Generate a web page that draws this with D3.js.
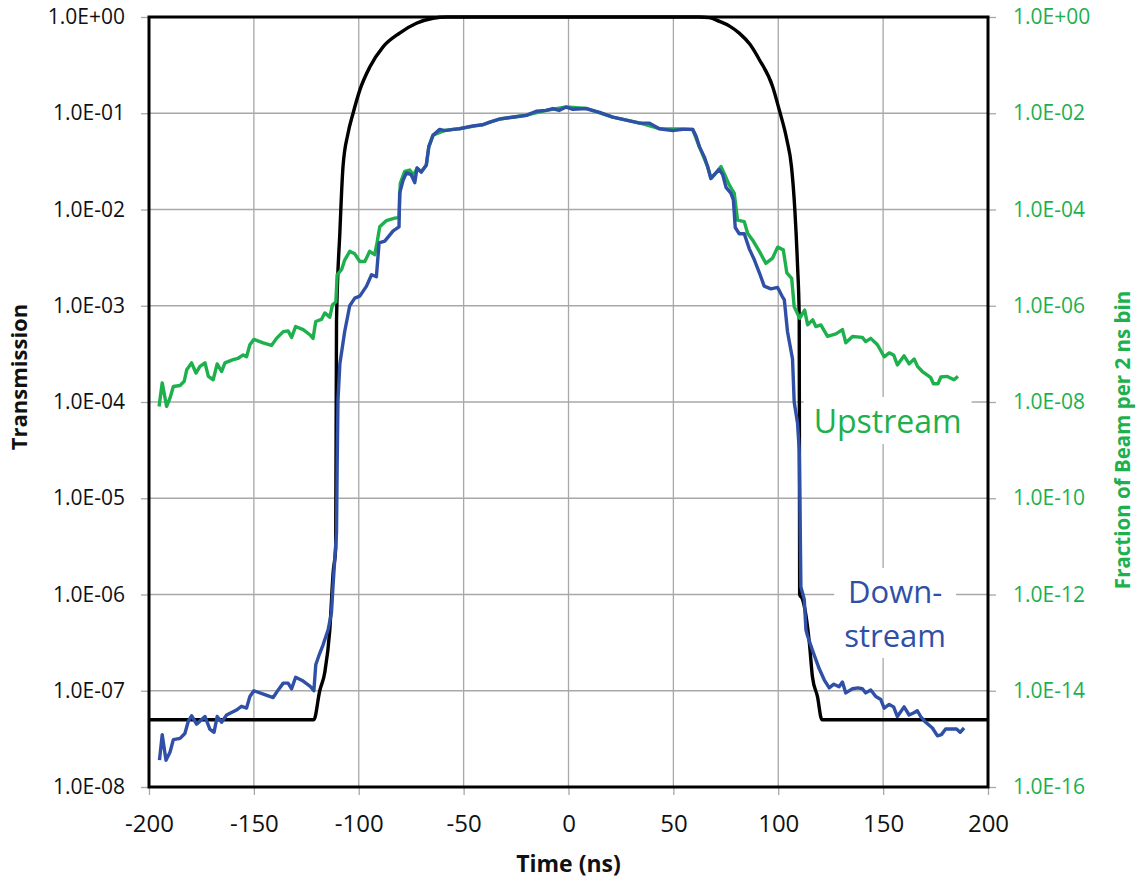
<!DOCTYPE html>
<html>
<head>
<meta charset="utf-8">
<script src="https://cdnjs.cloudflare.com/ajax/libs/d3/7.8.5/d3.min.js"></script>
<style>
  body { margin: 0; background: #fff; }
  text { font-family: "Open Sans", "DejaVu Sans", sans-serif; }
</style>
</head>
<body>
<div id="chart"></div>
<script>
var width  = 1144;
var height = 886;
var margin = { top: 17, right: 156, bottom: 99, left: 149 };

var blue  = "#2f50a6";
var green = "#1db04d";

// tick labels
var xTicks      = [-200, -150, -100, -50, 0, 50, 100, 150, 200];
var leftTicks   = [1, 1e-1, 1e-2, 1e-3, 1e-4, 1e-5, 1e-6, 1e-7, 1e-8];
var leftLabels  = ["1.0E+00", "1.0E-01", "1.0E-02", "1.0E-03", "1.0E-04", "1.0E-05", "1.0E-06", "1.0E-07", "1.0E-08"];
var rightTicks  = [1, 1e-2, 1e-4, 1e-6, 1e-8, 1e-10, 1e-12, 1e-14, 1e-16];
var rightLabels = ["1.0E+00", "1.0E-02", "1.0E-04", "1.0E-06", "1.0E-08", "1.0E-10", "1.0E-12", "1.0E-14", "1.0E-16"];

// transmission (black), [time ns, transmission]
var transmission = [
  [-200, 5e-8], [-121.4, 5e-8], [-118.6, 1.0e-7], [-116.2, 1.55e-7], [-113.8, 4.3e-7],
  [-112.2, 1.7e-6], [-111.0, 3e-6], [-110.6, 7e-4], [-109.0, 5.8e-3], [-107.5, 2.8e-2],
  [-105.1, 6.2e-2], [-102.7, 0.1], [-99.5, 0.174], [-94.8, 0.30], [-88.4, 0.49],
  [-80.5, 0.68], [-72.5, 0.86], [-64.6, 0.97], [-58, 1.0], [62, 1.0], [67, 0.985],
  [72, 0.9], [77, 0.8], [81.4, 0.68], [86.5, 0.52], [91, 0.36], [97.3, 0.19],
  [100.5, 0.108], [104.1, 0.053], [106.3, 0.028], [107.9, 0.01], [109.2, 2.6e-3],
  [110.0, 7.8e-4], [110.2, 1.0e-6], [111.6, 8.9e-7], [114.8, 3.2e-7], [116.3, 1.4e-7],
  [118.7, 8.7e-8], [120.8, 5e-8], [200, 5e-8]
];

// downstream (blue, left axis), [time ns, transmission]
var downstream = [
  [-195, 1.9e-8], [-193.7, 3.5e-8], [-191.9, 1.9e-8], [-190, 2.3e-8], [-188.4, 3.1e-8],
  [-185.2, 3.2e-8], [-182.9, 3.6e-8], [-181.3, 4.8e-8], [-179.7, 5.5e-8], [-177.3, 4.5e-8],
  [-173.3, 5.4e-8], [-171, 4.0e-8], [-169, 3.7e-8], [-167.5, 5.4e-8], [-165.4, 4.7e-8],
  [-163, 5.6e-8], [-158.3, 6.3e-8], [-155.9, 6.9e-8], [-153.5, 6.6e-8], [-151.9, 8.7e-8],
  [-150, 1.0e-7], [-144.8, 9.1e-8], [-140.8, 8.5e-8], [-138.4, 1.02e-7], [-136, 1.2e-7],
  [-133.7, 1.2e-7], [-132, 1.05e-7], [-130.1, 1.38e-7], [-126.5, 1.26e-7], [-123.3, 1.12e-7],
  [-121.4, 1.0e-7], [-120.5, 1.86e-7], [-118.6, 2.45e-7], [-117, 3.0e-7], [-114.6, 4.3e-7],
  [-113, 6.5e-7], [-112.2, 1.3e-6], [-110.6, 4.4e-6], [-110.3, 2.1e-5], [-109.9, 1.05e-4],
  [-109, 2.5e-4], [-106.7, 5.4e-4], [-104.3, 1.0e-3], [-101.9, 1.2e-3], [-99.5, 1.26e-3],
  [-96.3, 1.6e-3], [-93.9, 2.1e-3], [-91.6, 2.0e-3], [-90.3, 4.5e-3], [-87.6, 4.7e-3],
  [-83.6, 6.0e-3], [-80.8, 6.6e-3], [-80.5, 1.48e-2], [-78.9, 2.0e-2], [-77.3, 2.4e-2],
  [-75, 2.3e-2], [-73.3, 1.9e-2], [-72.2, 2.7e-2], [-70.2, 2.45e-2], [-67.8, 2.9e-2],
  [-66.6, 4.5e-2], [-64.6, 5.9e-2], [-61.4, 6.8e-2], [-59, 6.6e-2], [-55, 6.8e-2],
  [-51.9, 6.9e-2], [-45.6, 7.4e-2], [-40.8, 7.6e-2], [-37.6, 8.1e-2], [-32.9, 8.7e-2],
  [-26.6, 9.1e-2], [-20.1, 9.5e-2], [-15.4, 0.105], [-10.6, 0.107], [-7.5, 0.112],
  [-4.5, 0.107], [-1.1, 0.116], [2.1, 0.11], [8.4, 0.112], [14.8, 0.102], [21.1, 0.091],
  [27.5, 0.085], [33.8, 0.079], [38.6, 0.079], [43.3, 0.069], [49.7, 0.066], [54.4, 0.068],
  [59.2, 0.068], [60.8, 0.058], [62.4, 0.045], [64.8, 0.035], [66.3, 0.028], [67.9, 0.021],
  [70.3, 0.024], [71.9, 0.026], [73.5, 0.023], [75.1, 0.017], [77.4, 0.0148], [78.6, 0.0126],
  [79.5, 0.0065], [81.4, 0.0056], [83.8, 0.0056], [86.2, 0.0039], [88.6, 0.003], [91, 0.0022],
  [93.3, 0.0016], [96.5, 0.0015], [99.7, 0.00155], [101.8, 0.00126], [102.9, 0.00115],
  [104.4, 5.4e-4], [106.8, 2.8e-4], [107.6, 1.0e-4], [109.2, 6.0e-5], [110, 3.2e-5],
  [110.5, 4.4e-6], [110.8, 1.2e-6], [112.4, 8.9e-7], [113.2, 4.3e-7], [114, 3.7e-7],
  [116.4, 2.6e-7], [119.5, 1.7e-7], [121.9, 1.3e-7], [124.3, 1.07e-7], [126.5, 1.17e-7],
  [129, 1.1e-7], [130.6, 1.23e-7], [132.2, 9.5e-8], [135.4, 1.05e-7], [138, 1.07e-7],
  [140.1, 1.05e-7], [141.7, 9.5e-8], [144.1, 1.02e-7], [146.5, 8.7e-8], [148.9, 8.1e-8],
  [150.5, 6.6e-8], [152.9, 7.2e-8], [155, 6.8e-8], [156.8, 5.4e-8], [160, 6.8e-8],
  [162.4, 5.6e-8], [164.7, 5.9e-8], [166.3, 6.2e-8], [167.9, 5.4e-8], [170.3, 4.7e-8],
  [173.5, 4.1e-8], [175.9, 3.4e-8], [177.8, 3.5e-8], [179.8, 4.0e-8], [183, 4.0e-8],
  [185, 4.0e-8], [186.7, 3.7e-8], [188.6, 4.1e-8]
];

// upstream (green, right axis), [time ns, fraction of beam per 2 ns bin]
var upstream = [
  [-195.2, 8.1e-9], [-193.7, 2.5e-8], [-191.6, 8.1e-9], [-190, 1.2e-8], [-188.4, 2.1e-8],
  [-185.2, 2.2e-8], [-183.2, 2.7e-8], [-182, 4.7e-8], [-179.7, 6.5e-8], [-177.6, 4.0e-8],
  [-175.7, 5.5e-8], [-173.3, 6.5e-8], [-171.7, 3.4e-8], [-169.4, 2.9e-8], [-167.5, 6.2e-8],
  [-165.4, 4.3e-8], [-163.8, 6.5e-8], [-159.9, 7.6e-8], [-157.5, 8.1e-8], [-155.1, 9.5e-8],
  [-153.5, 8.7e-8], [-151.9, 1.55e-7], [-150, 2.0e-7], [-145.6, 1.7e-7], [-141.6, 1.5e-7],
  [-139.2, 2.1e-7], [-136, 2.9e-7], [-133.7, 3.0e-7], [-132, 2.2e-7], [-130.1, 3.7e-7],
  [-126.5, 3.2e-7], [-123.3, 2.5e-7], [-121.8, 2.1e-7], [-120.5, 4.7e-7], [-117.8, 5.2e-7],
  [-116.2, 7.1e-7], [-113.8, 5.8e-7], [-112.5, 1.05e-6], [-110.9, 1.2e-6], [-110.3, 4.4e-6],
  [-108.2, 5.6e-6], [-106.7, 8.9e-6], [-104.3, 1.35e-5], [-101.9, 1.2e-5], [-99.5, 8.3e-6],
  [-97.1, 8.3e-6], [-94.8, 1.35e-5], [-92.4, 1.15e-5], [-91.3, 2.0e-5], [-90, 4.4e-5],
  [-86.8, 5.9e-5], [-82.9, 6.6e-5], [-80.8, 6.8e-5], [-80.2, 3.5e-4], [-78.1, 6.2e-4],
  [-75.7, 6.6e-4], [-74, 5.2e-4], [-72.2, 7.2e-4], [-70.2, 6.0e-4], [-67.8, 8.3e-4],
  [-66.6, 2.0e-3], [-64.6, 3.5e-3], [-59, 4.4e-3], [-51.9, 4.8e-3], [-40.8, 5.8e-3],
  [-32.9, 7.6e-3], [-20.1, 9.1e-3], [-10.6, 1.15e-2], [-1.1, 1.35e-2], [8.4, 1.26e-2],
  [21.1, 8.3e-3], [33.8, 6.3e-3], [43.3, 4.8e-3], [54.4, 4.7e-3], [59.2, 4.6e-3],
  [62.4, 2.0e-3], [66.3, 7.9e-4], [67.9, 4.4e-4], [70.3, 5.8e-4], [72.7, 7.8e-4],
  [76.7, 3.2e-4], [79, 2.2e-4], [80.6, 6.0e-5], [83.8, 5.6e-5], [85.4, 3.2e-5],
  [87.8, 2.3e-5], [91, 1.35e-5], [94.1, 7.6e-6], [97.3, 9.8e-6], [99.7, 1.65e-5],
  [102.4, 1.45e-5], [104.1, 4.8e-6], [106.4, 3.7e-6], [107.6, 9.5e-7], [108.4, 8.1e-7],
  [110.2, 5.5e-7], [112.6, 8.1e-7], [114, 4.0e-7], [116.4, 5.1e-7], [117.9, 3.7e-7],
  [120.3, 4.0e-7], [123.5, 2.3e-7], [127.5, 2.6e-7], [130.6, 3.2e-7], [132.2, 1.7e-7],
  [135.4, 2.3e-7], [140.1, 2.2e-7], [141.7, 1.8e-7], [144.1, 2.1e-7], [147.3, 1.55e-7],
  [150.5, 8.7e-8], [152.9, 1.05e-7], [155, 9.5e-8], [156.8, 5.9e-8], [160, 9.1e-8],
  [162.4, 6.2e-8], [164.8, 7.8e-8], [166.4, 5.5e-8], [168.7, 4.3e-8], [171.1, 3.6e-8],
  [172.7, 3.2e-8], [174, 2.4e-8], [176.2, 2.4e-8], [177.5, 3.3e-8], [180.6, 3.4e-8],
  [183.8, 2.9e-8], [185.7, 3.4e-8]
];

var w = width - margin.left - margin.right;
var h = height - margin.top - margin.bottom;

var svg = d3.select("#chart").append("svg")
    .attr("width", width)
    .attr("height", height);

var g = svg.append("g")
    .attr("transform", "translate(" + margin.left + "," + margin.top + ")");

var x  = d3.scaleLinear().domain([-200, 200]).range([0, w]);
var yL = d3.scaleLog().domain([1e-8, 1]).range([h, 0]);
var yR = d3.scaleLog().domain([1e-16, 1]).range([h, 0]);

// grid
g.append("g").selectAll("line").data(xTicks).enter().append("line")
    .attr("x1", function(d) { return x(d); }).attr("x2", function(d) { return x(d); })
    .attr("y1", 0).attr("y2", h)
    .attr("stroke", "#a8a8a8").attr("stroke-width", 1.3);
g.append("g").selectAll("line").data(leftTicks).enter().append("line")
    .attr("x1", 0).attr("x2", w)
    .attr("y1", function(d) { return yL(d); }).attr("y2", function(d) { return yL(d); })
    .attr("stroke", "#a8a8a8").attr("stroke-width", 1.3);

// axes
var xAxis = d3.axisBottom(x).tickValues(xTicks).tickSize(8).tickPadding(20)
    .tickFormat(function(d) { return d; });
var leftAxis = d3.axisLeft(yL).tickValues(leftTicks).tickSize(8).tickPadding(16)
    .tickFormat(function(d, i) { return leftLabels[i]; });
var rightAxis = d3.axisRight(yR).tickValues(rightTicks).tickSize(8).tickPadding(17)
    .tickFormat(function(d, i) { return rightLabels[i]; });

var gx = g.append("g").attr("transform", "translate(0," + h + ")").call(xAxis);
gx.selectAll("text").attr("font-size", 24).attr("fill", "#111");
var gl = g.append("g").call(leftAxis);
gl.selectAll("text").attr("font-size", 21).attr("fill", "#111");
var gr = g.append("g").attr("transform", "translate(" + w + ",0)").call(rightAxis);
gr.selectAll("text").attr("font-size", 21).attr("fill", green);
[gx, gl, gr].forEach(function(a) {
  a.select(".domain").remove();
  a.selectAll(".tick line").attr("stroke", "#a8a8a8").attr("stroke-width", 1.3);
  a.selectAll("text").style("font-family", "'Open Sans', sans-serif");
});

// label boxes (white, cover gridlines)
function boxLabel(lines, cx, baselines, color, size) {
  var lg = g.append("g");
  var rect = lg.append("rect").attr("fill", "#fff");
  var t = lg.append("g");
  lines.forEach(function(s, i) {
    t.append("text").attr("x", cx).attr("y", baselines[i])
      .attr("text-anchor", "middle").attr("font-size", size)
      .attr("fill", color).text(s);
  });
  var bb = t.node().getBBox();
  rect.attr("x", bb.x - 10).attr("y", bb.y - 2)
      .attr("width", bb.width + 20).attr("height", bb.height + 4);
}

// lines
var line = function(ys, curve) {
  return d3.line().curve(curve || d3.curveLinear)
    .x(function(d) { return x(d[0]); }).y(function(d) { return ys(d[1]); });
};

g.append("path").datum(transmission)
    .attr("d", line(yL, d3.curveMonotoneX)).attr("fill", "none")
    .attr("stroke", "#000").attr("stroke-width", 3.4).attr("stroke-linejoin", "round");
g.append("path").datum(upstream)
    .attr("d", line(yR)).attr("fill", "none")
    .attr("stroke", green).attr("stroke-width", 3.4).attr("stroke-linejoin", "round");
g.append("path").datum(downstream)
    .attr("d", line(yL)).attr("fill", "none")
    .attr("stroke", blue).attr("stroke-width", 3.4).attr("stroke-linejoin", "round");

boxLabel(["Upstream"], x(145) + 15, [433 - margin.top], green, 32);
boxLabel(["Down-", "stream"], x(150) + 12, [603 - margin.top, 647 - margin.top], blue, 31);

// frame
g.append("rect").attr("x", 0).attr("y", 0).attr("width", w).attr("height", h)
    .attr("fill", "none").attr("stroke", "#000").attr("stroke-width", 3);

// titles
svg.append("text").attr("x", margin.left + w / 2).attr("y", 872)
    .attr("text-anchor", "middle").attr("font-size", 23).attr("font-weight", "bold")
    .attr("fill", "#111").text("Time (ns)");
svg.append("text")
    .attr("transform", "translate(27," + (margin.top + h / 2 - 25) + ") rotate(-90)")
    .attr("text-anchor", "middle").attr("font-size", 22).attr("font-weight", "bold")
    .attr("fill", "#111").text("Transmission");
svg.append("text")
    .attr("transform", "translate(1130,440) rotate(-90)")
    .attr("text-anchor", "middle").attr("font-size", 20.5).attr("font-weight", "bold")
    .attr("fill", green).text("Fraction of Beam per 2 ns bin");
</script>
</body>
</html>
